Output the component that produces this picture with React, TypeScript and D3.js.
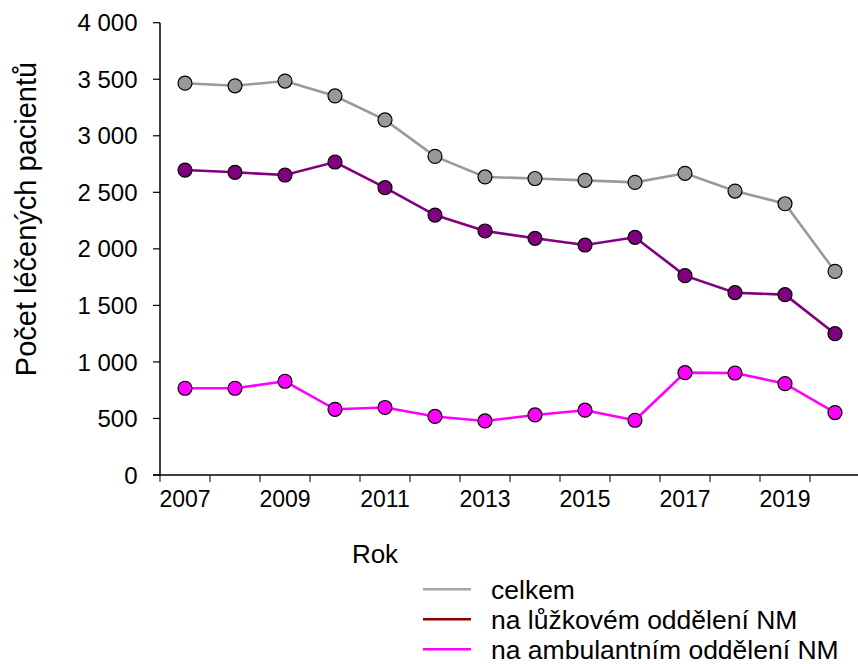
import React from 'react'
import * as d3 from 'd3'

const years: string[] = ['2007', '2008', '2009', '2010', '2011', '2012', '2013', '2014', '2015', '2016', '2017', '2018', '2019', '2020']
const celkem: number[] = [3465, 3442, 3484, 3352, 3140, 2818, 2636, 2622, 2606, 2588, 2668, 2511, 2399, 1801]
const luzkove: number[] = [2697, 2677, 2653, 2768, 2541, 2299, 2158, 2093, 2034, 2102, 1763, 1612, 1595, 1250]
const ambulantni: number[] = [767, 767, 829, 581, 597, 518, 478, 531, 573, 484, 905, 902, 808, 552]
const yTicks: number[] = [0, 500, 1000, 1500, 2000, 2500, 3000, 3500, 4000]
const xLabelYears: string[] = ['2007', '2009', '2011', '2013', '2015', '2017', '2019']

const W = 858
const H = 664
const plot = { left: 160, right: 860, top: 22.7, bottom: 475 }
const font = 'Arial, "Liberation Sans", sans-serif'

const series = [
  { name: 'celkem', values: celkem, line: '#999999', fill: '#999999', legend: '#a6a6a6' },
  { name: 'na lůžkovém oddělení NM', values: luzkove, line: '#800080', fill: '#800080', legend: '#8b0000' },
  { name: 'na ambulantním oddělení NM', values: ambulantni, line: '#ff00ff', fill: '#ff00ff', legend: '#ff00ff' }
]

// czech style thousands: non-breaking space
const locale = d3.formatLocale({ decimal: ',', thousands: '\u00a0', grouping: [3], currency: ['', ''] })
const fmt = locale.format(',d')

const App = () => {
  const x = d3.scaleBand<string>().domain(years).range([plot.left, plot.right])
  const y = d3.scaleLinear().domain([0, 4000]).range([plot.bottom, plot.top])
  const cx = (yr: string) => (x(yr) as number) + x.bandwidth() / 2

  const line = d3.line<number>()
    .x((_, i) => cx(years[i]))
    .y(d => y(d))

  return (
    <div style={{ position: 'absolute', left: 0, top: 0 }}>
      <svg width={W} height={H} style={{ display: 'block', background: '#fff' }} fontFamily={font}>
        {/* y axis */}
        <line x1={plot.left} x2={plot.left} y1={y(4000)} y2={plot.bottom} stroke='#000' strokeWidth={1.5} />
        {yTicks.map(t => (
          <g key={t}>
            <line x1={plot.left - 7} x2={plot.left} y1={y(t)} y2={y(t)} stroke='#000' strokeWidth={1.2} />
            <text x={137.5} y={y(t)} dy='0.36em' textAnchor='end' fontSize={24} fill='#000'>{fmt(t)}</text>
          </g>
        ))}
        {/* x axis */}
        <line x1={plot.left - 7} x2={W} y1={plot.bottom} y2={plot.bottom} stroke='#000' strokeWidth={1.5} />
        {years.map(yr => (
          <line key={yr} x1={x(yr) as number} x2={x(yr) as number} y1={plot.bottom} y2={plot.bottom + 7} stroke='#000' strokeWidth={1} />
        ))}
        {xLabelYears.map(yr => (
          <text key={yr} x={cx(yr)} y={plot.bottom + 32} textAnchor='middle' fontSize={23} fill='#000'>{yr}</text>
        ))}
        <text x={375} y={563} textAnchor='middle' fontSize={26} fill='#000'>Rok</text>
        <text transform={`translate(36, 219) rotate(-90)`} textAnchor='middle' fontSize={29} fill='#000'>Počet léčených pacientů</text>

        {series.map(s => (
          <g key={s.name}>
            <path d={line(s.values) || ''} fill='none' stroke={s.line} strokeWidth={2.6} />
            {s.values.map((v, i) => (
              <circle key={i} cx={cx(years[i])} cy={y(v)} r={7} fill={s.fill} stroke='#000' strokeWidth={1.2} />
            ))}
          </g>
        ))}

        {/* legend */}
        {series.map((s, i) => (
          <g key={s.name} transform={`translate(0, ${589.3 + i * 30})`}>
            <line x1={423} x2={471} y1={0} y2={0} stroke={s.legend} strokeWidth={2.6} />
            <text x={491} y={0} dy='0.35em' fontSize={26.5} fill='#000'>{s.name}</text>
          </g>
        ))}
      </svg>
    </div>
  )
}

export default App
